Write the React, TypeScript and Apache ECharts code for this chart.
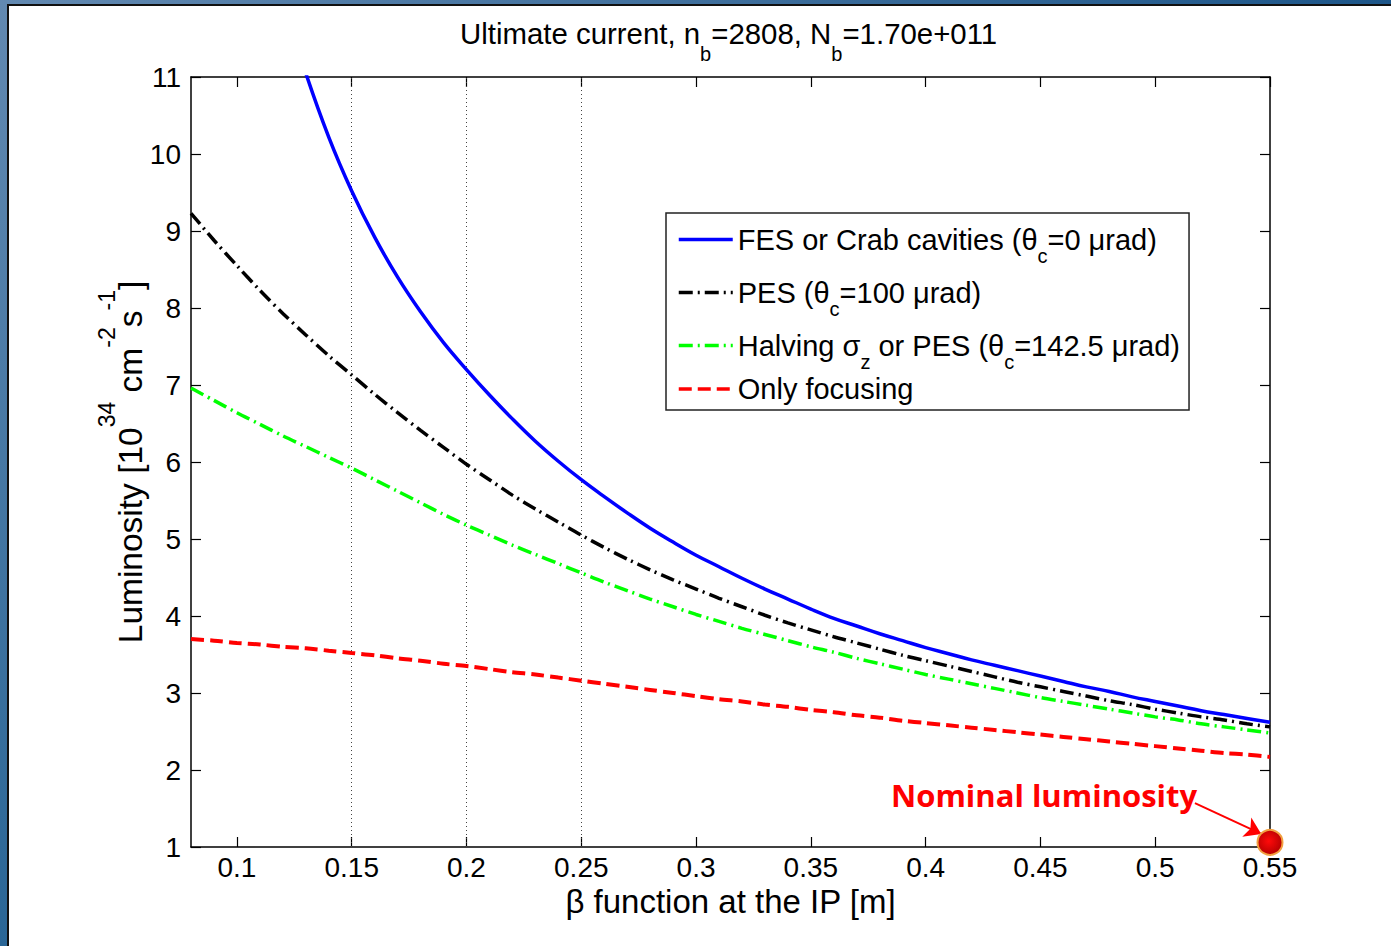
import React, { useEffect, useRef } from "react";
import * as echarts from "echarts";

const FONT = "'Liberation Sans', Arial, Helvetica, sans-serif";

// beta* values [m]
const betas = [
  0.08, 0.09, 0.1, 0.11, 0.12, 0.13, 0.14, 0.15, 0.16, 0.17, 0.18, 0.19, 0.2, 0.21, 0.22, 0.23,
  0.24, 0.25, 0.26, 0.27, 0.28, 0.29, 0.3, 0.31, 0.32, 0.33, 0.34, 0.35, 0.36, 0.37, 0.38, 0.39,
  0.4, 0.41, 0.42, 0.43, 0.44, 0.45, 0.46, 0.47, 0.48, 0.49, 0.5, 0.51, 0.52, 0.53, 0.54, 0.55,
];

// Luminosity [1e34 cm^-2 s^-1]
const fesValues = [
  null, null, null, null, 12.0, 11.05, 10.22, 9.52, 8.92, 8.4, 7.95, 7.55, 7.2, 6.87, 6.56, 6.27,
  6.01, 5.77, 5.55, 5.34, 5.14, 4.96, 4.79, 4.64, 4.49, 4.35, 4.22, 4.09, 3.97, 3.87, 3.77, 3.68,
  3.59, 3.51, 3.43, 3.36, 3.29, 3.22, 3.15, 3.08, 3.02, 2.95, 2.89, 2.83, 2.77, 2.72, 2.67, 2.62,
];
const pesValues = [
  9.23, 8.88, 8.55, 8.23, 7.93, 7.65, 7.38, 7.13, 6.88, 6.64, 6.41, 6.19, 5.97, 5.77, 5.57, 5.39,
  5.22, 5.05, 4.89, 4.74, 4.6, 4.47, 4.35, 4.23, 4.12, 4.01, 3.91, 3.82, 3.73, 3.65, 3.57, 3.49,
  3.42, 3.35, 3.28, 3.21, 3.14, 3.08, 3.02, 2.96, 2.9, 2.85, 2.79, 2.74, 2.69, 2.65, 2.6, 2.56,
];
const halvingValues = [
  6.96, 6.8, 6.64, 6.49, 6.34, 6.2, 6.06, 5.92, 5.77, 5.62, 5.47, 5.32, 5.18, 5.05, 4.92, 4.8,
  4.68, 4.56, 4.44, 4.33, 4.22, 4.12, 4.02, 3.93, 3.84, 3.76, 3.68, 3.6, 3.53, 3.45, 3.38, 3.31,
  3.24, 3.18, 3.12, 3.06, 3.0, 2.94, 2.89, 2.84, 2.79, 2.74, 2.69, 2.65, 2.6, 2.56, 2.52, 2.48,
];
const focusingValues = [
  3.7, 3.68, 3.65, 3.63, 3.6, 3.58, 3.55, 3.52, 3.49, 3.45, 3.42, 3.38, 3.35, 3.31, 3.27, 3.24,
  3.2, 3.16, 3.12, 3.08, 3.04, 3.0, 2.96, 2.92, 2.89, 2.85, 2.82, 2.78, 2.75, 2.71, 2.68, 2.64,
  2.61, 2.58, 2.55, 2.52, 2.49, 2.46, 2.43, 2.4, 2.37, 2.34, 2.31, 2.28, 2.25, 2.22, 2.2, 2.17,
];

const seriesNames = [
  "FES or Crab cavities (θc=0 μrad)",
  "PES (θc=100 μrad)",
  "Halving σz or PES (θc=142.5 μrad)",
  "Only focusing",
];
const legendRich: Record<string, string> = {
  "FES or Crab cavities (θc=0 μrad)": "FES or Crab cavities (θ{sub|c}=0 μrad)",
  "PES (θc=100 μrad)": "PES (θ{sub|c}=100 μrad)",
  "Halving σz or PES (θc=142.5 μrad)": "Halving σ{sub|z} or PES (θ{sub|c}=142.5 μrad)",
  "Only focusing": "Only focusing",
};

const xTickValues = [0.1, 0.15, 0.2, 0.25, 0.3, 0.35, 0.4, 0.45, 0.5, 0.55];
const gridBetas = [0.15, 0.2, 0.25];
const nominalPoint = [0.55, 1.06];
const arrowStart = [0.5173, 1.57];
const arrowEnd = [0.5462, 1.17];

const pairs = (vals: (number | null)[]) => betas.map((b, i) => [b, vals[i]]);

export default function App() {
  const ref = useRef<HTMLDivElement>(null);
  useEffect(() => {
    document.body.style.margin = "0";
    const chart = echarts.init(ref.current!, null, { renderer: "svg" });
    const axisLine = { show: true, lineStyle: { color: "#000", width: 1.5 } };
    const tick = { show: true, inside: true, length: 10, lineStyle: { color: "#000", width: 1.2 } };
    const dashDot = [14, 5, 2, 5];
    const option: any = {
      animation: false,
      backgroundColor: "#ffffff",
      title: {
        text: "Ultimate current, n{sub|b}=2808, N{sub|b}=1.70e+011",
        left: 460,
        top: 16,
        padding: 0,
        textStyle: {
          fontSize: 29.4,
          fontWeight: "normal",
          fontFamily: FONT,
          color: "#000",
          lineHeight: 34,
          rich: {
            sub: { fontSize: 20, fontFamily: FONT, color: "#000", lineHeight: 34, padding: [42, 0, 0, 0] },
          },
        },
      },
      grid: { left: 191, right: 121, top: 77, bottom: 99, containLabel: false, outerBoundsMode: "none", show: false },
      legend: {
        show: true,
        data: seriesNames,
        orient: "vertical",
        left: 666,
        top: 213,
        padding: [0, 9, 4, 11],
        itemGap: 0,
        itemWidth: 54,
        itemHeight: 14,
        backgroundColor: "#fff",
        borderColor: "#222",
        borderWidth: 1.5,
        borderRadius: 0,
        selectedMode: false,
        itemStyle: { opacity: 0 },
        lineStyle: { width: 3.5 },
        formatter: (name: string) => legendRich[name] || name,
        textStyle: {
          fontSize: 29,
          fontFamily: FONT,
          color: "#000",
          lineHeight: 34,
          rich: {
            sub: { fontSize: 20, fontFamily: FONT, color: "#000", lineHeight: 34, padding: [33, 0, 0, 0] },
          },
        },
      },
      xAxis: [
        {
          type: "value",
          min: 0.08,
          max: 0.55,
          position: "bottom",
          axisLine,
          axisTick: { ...tick, customValues: xTickValues },
          splitLine: { show: false },
          axisLabel: {
            customValues: xTickValues,
            formatter: (v: number) => String(+v.toFixed(2)),
            fontSize: 28,
            fontFamily: FONT,
            color: "#000",
            margin: 6,
          },
          name: "β function at the IP [m]",
          nameLocation: "middle",
          nameGap: 34,
          nameMoveOverlap: false,
          nameTextStyle: { fontSize: 33, fontFamily: FONT, color: "#000", lineHeight: 40 },
        },
        {
          type: "value",
          min: 0.08,
          max: 0.55,
          position: "top",
          axisLine,
          axisTick: { ...tick, customValues: xTickValues },
          splitLine: { show: false },
          axisLabel: { show: false },
        },
      ],
      yAxis: [
        {
          type: "value",
          min: 1,
          max: 11,
          interval: 1,
          position: "left",
          axisLine,
          axisTick: tick,
          splitLine: { show: false },
          axisLabel: { fontSize: 28, fontFamily: FONT, color: "#000", margin: 10 },
          name: "Luminosity [10{sup|34} cm{sup|-2}s{sup|-1}]",
          nameLocation: "middle",
          nameRotate: 90,
          nameGap: 41,
          nameMoveOverlap: false,
          nameTextStyle: {
            fontSize: 33.5,
            fontFamily: FONT,
            color: "#000",
            lineHeight: 40,
            rich: {
              sup: { fontSize: 23, fontFamily: FONT, color: "#000", lineHeight: 40, padding: [0, 0, 46, 0] },
            },
          },
        },
        {
          type: "value",
          min: 1,
          max: 11,
          interval: 1,
          position: "right",
          axisLine,
          axisTick: tick,
          splitLine: { show: false },
          axisLabel: { show: false },
        },
      ],
      series: [
        {
          name: seriesNames[0],
          type: "line",
          data: pairs(fesValues),
          symbol: "none",
          smooth: 0.4,
          clip: true,
          lineStyle: { color: "#0000ff", width: 3.5, type: "solid" },
          itemStyle: { color: "#0000ff" },
          z: 5,
        },
        {
          name: seriesNames[1],
          type: "line",
          data: pairs(pesValues),
          symbol: "none",
          smooth: 0.3,
          clip: true,
          lineStyle: { color: "#000000", width: 3.5, type: dashDot },
          itemStyle: { color: "#000000" },
          z: 4,
        },
        {
          name: seriesNames[2],
          type: "line",
          data: pairs(halvingValues),
          symbol: "none",
          smooth: 0.3,
          clip: true,
          lineStyle: { color: "#00ff00", width: 3.5, type: dashDot },
          itemStyle: { color: "#00ff00" },
          z: 3,
        },
        {
          name: seriesNames[3],
          type: "line",
          data: pairs(focusingValues),
          symbol: "none",
          smooth: 0.3,
          clip: true,
          lineStyle: { color: "#ff0000", width: 4, type: [13, 6] },
          itemStyle: { color: "#ff0000" },
          z: 3,
          markLine: {
            silent: true,
            symbol: "none",
            label: { show: false },
            lineStyle: { color: "#444", width: 1, type: [1, 3] },
            data: gridBetas.map((b) => ({ xAxis: b })),
            z: 1,
          },
        },
        {
          name: "Nominal luminosity",
          type: "scatter",
          data: [nominalPoint],
          symbol: "circle",
          symbolSize: 25,
          clip: false,
          z: 10,
          itemStyle: {
            opacity: 1,
            color: {
              type: "radial",
              x: 0.45,
              y: 0.45,
              r: 0.6,
              colorStops: [
                { offset: 0, color: "#ff0a0a" },
                { offset: 1, color: "#b00000" },
              ],
            },
            borderColor: "#f2a040",
            borderWidth: 2,
          },
          markLine: {
            silent: true,
            symbol: ["none", "arrow"],
            symbolSize: 16,
            label: { show: false },
            lineStyle: { color: "#ff0000", width: 2, type: "solid", opacity: 1 },
            data: [[{ coord: arrowStart }, { coord: arrowEnd }]],
            z: 9,
          },
        },
      ],
      graphic: [
        {
          type: "rect",
          left: 0,
          top: 0,
          shape: { width: 7, height: 946 },
          style: {
            fill: new echarts.graphic.LinearGradient(0, 0, 0, 1, [
              { offset: 0, color: "#6289b1" },
              { offset: 1, color: "#2a6696" },
            ]),
          },
          z: 100,
        },
        {
          type: "rect",
          left: 0,
          top: 0,
          shape: { width: 1391, height: 4 },
          style: {
            fill: new echarts.graphic.LinearGradient(0, 0, 1, 0, [
              { offset: 0, color: "#6289b1" },
              { offset: 1, color: "#1d5689" },
            ]),
          },
          z: 100,
        },
        { type: "rect", left: 7, top: 4, shape: { width: 2, height: 942 }, style: { fill: "#111" }, z: 100 },
        { type: "rect", left: 7, top: 4, shape: { width: 1384, height: 2 }, style: { fill: "#111" }, z: 100 },
        {
          type: "text",
          x: 891,
          y: 795,
          z: 100,
          style: {
            text: "Nominal luminosity",
            fontSize: 31,
            fontWeight: "bold",
            fontFamily: "'Open Sans', sans-serif",
            fill: "#ff0000",
            align: "left",
            verticalAlign: "middle",
          },
        },
      ],
    };
    chart.setOption(option);
    return () => chart.dispose();
  }, []);
  return (
    <div
      ref={ref}
      style={{ position: "absolute", left: 0, top: 0, width: 1391, height: 946, background: "#fff" }}
    />
  );
}
